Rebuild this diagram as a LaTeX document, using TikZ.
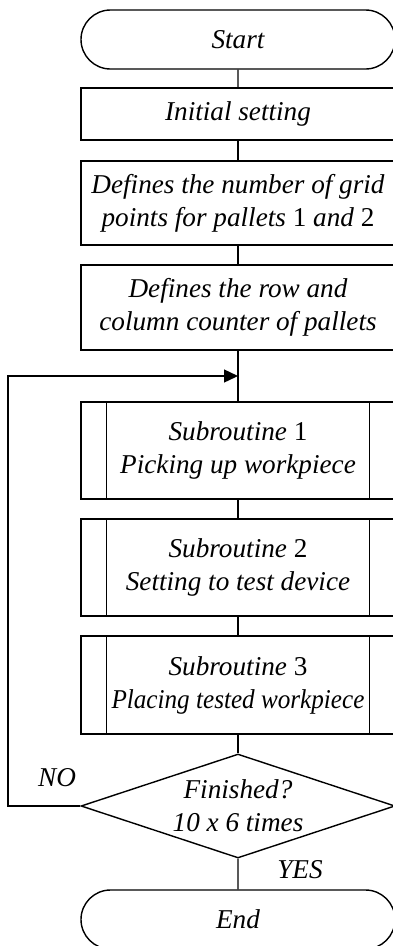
\documentclass[tikz,border=0pt]{standalone}
\usepackage{graphicx}
\usepackage{fontspec}
\setmainfont{Liberation Serif}
\usetikzlibrary{shapes.misc,shapes.geometric,arrows.meta}
\begin{document}
\begin{tikzpicture}[x=1pt,y=-1pt,
  every node/.style={font=\fontsize{27.2}{33}\selectfont\itshape, align=center},
  base/.style={draw, line width=1.4pt, inner sep=0pt, minimum width=314pt},
  term/.style={base, rounded rectangle, minimum height=59pt},
  proc/.style={base, rectangle},
  sub/.style={base, rectangle},
  dec/.style={base, diamond, aspect=3, minimum height=104pt},
  conn/.style={line width=1.4pt},
  lbl/.style={inner sep=0pt}
]
\useasboundingbox (0,0) rectangle (393,946);
\node[term] (start) at (238,39.5) {Start};
\node[proc, minimum height=52pt] (init) at (238,114) {Initial setting};
\node[proc, minimum height=84pt] (grid) at (238,203) {Defines the number of grid\\points for pallets \textup{1} and \textup{2}};
\node[proc, minimum height=85pt] (row) at (238,307.5) {Defines the row and\\column counter of pallets};
\coordinate (j) at (238,376);
\node[sub, minimum height=97pt] (s1) at (238,450.5) {Subroutine \textup{1}\\Picking up workpiece};
\node[sub, minimum height=97pt] (s2) at (238,567.5) {Subroutine \textup{2}\\Setting to test device};
\node[sub, minimum height=98pt] (s3) at (238,685) {Subroutine \textup{3}\\\scalebox{0.925}[1]{Placing tested workpiece}};
\foreach \n in {s1,s2,s3}{
  \draw[conn] ([xshift=26pt]\n.north west) -- ([xshift=26pt]\n.south west);
  \draw[conn] ([xshift=-26pt]\n.north east) -- ([xshift=-26pt]\n.south east);
}
\node[dec] (fin) at (238,806) {Finished?\\10 x 6 times};
\node[term] (end) at (238,919.5) {End};
\coordinate (lb) at (8,806);
\coordinate (lt) at (8,376);
\draw[conn] (start) -- (init);
\draw[conn] (init) -- (grid);
\draw[conn] (grid) -- (row);
\draw[conn] (row) -- (s1);
\draw[conn] (s1) -- (s2);
\draw[conn] (s2) -- (s3);
\draw[conn] (s3) -- (fin);
\draw[conn] (fin) -- (end);
\draw[conn, -{Triangle[length=14pt,width=13pt]}] (fin.west) -- (lb) -- (lt) -- (j);
\node[lbl] (no) at (57,778) {NO};
\node[lbl] (yes) at (300,870) {YES};
\end{tikzpicture}
\end{document}
